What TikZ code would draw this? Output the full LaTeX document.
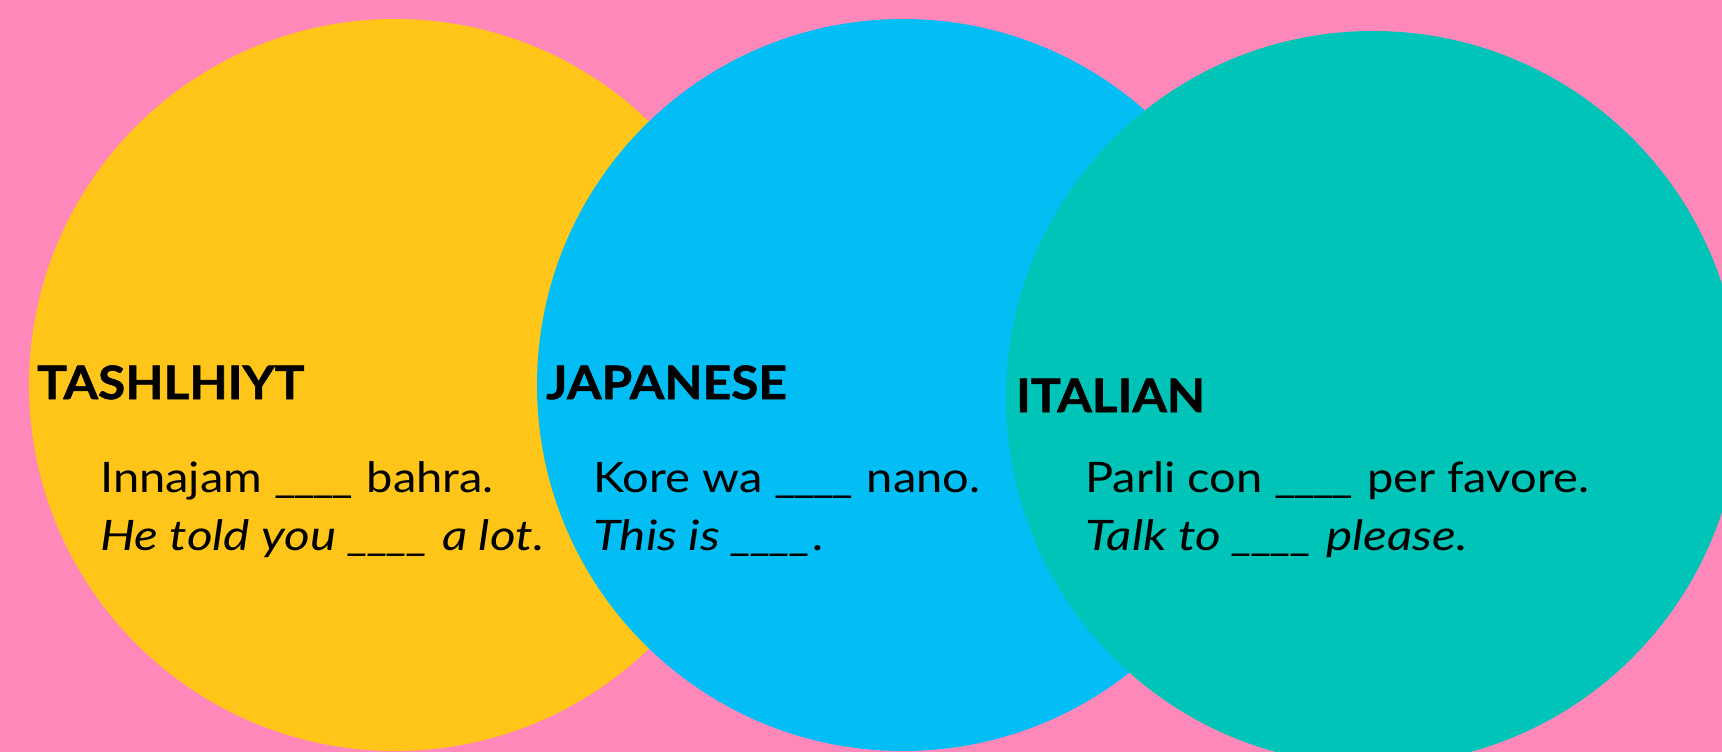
\documentclass[tikz,border=0pt]{standalone}
\usepackage{fontspec}
\setmainfont{Lato}
\newfontfamily\headfont[FakeStretch=1.08,FakeBold=1.2]{Lato Bold}
\newfontfamily\bodyfont[FakeStretch=1.12]{Lato}
\newfontfamily\itfont[FakeStretch=1.18]{Lato Italic}
\newcommand{\gapline}{\_\kern-2.5pt\_\kern-2.5pt\_\kern-2.5pt\_\kern1.5pt}
\definecolor{bgpink}{RGB}{255,136,187}
\definecolor{cyellow}{RGB}{255,198,25}
\definecolor{cblue}{RGB}{2,190,245}
\definecolor{cteal}{RGB}{0,196,183}
\begin{document}
\begin{tikzpicture}[x=1pt,y=-1pt,
  head/.style={anchor=base west,inner sep=0pt,font=\headfont\fontsize{46}{46}\selectfont},
  line/.style={anchor=base west,inner sep=0pt,font=\bodyfont\fontsize{42}{42}\selectfont},
  iline/.style={anchor=base west,inner sep=0pt,font=\itfont\fontsize{42}{42}\selectfont}]
\fill[bgpink] (0,0) rectangle (1722,752);
\useasboundingbox (0,0) rectangle (1722,752);
\begin{scope}
\clip (0,0) rectangle (1722,752);
\fill[cyellow] (395,385) circle[radius=366pt];
\fill[cblue] (903,385) circle[radius=366pt];
\fill[cteal] (1373,398) circle[radius=367pt];
\end{scope}
\node[head] (t1) at (37,399) {TASHLHIYT};
\node[line] (t1a) at (100,492) {Innajam \gapline{} bahra.};
\node[iline] (t1b) at (100,550) {He told you \gapline{} a lot.};
\node[head] (t2) at (546,399) {JAPANESE};
\node[line] (t2a) at (593,492) {Kore wa \gapline{} nano.};
\node[iline] (t2b) at (593,550) {This is \gapline{}.};
\node[head] (t3) at (1016,412) {ITALIAN};
\node[line] (t3a) at (1085,492) {Parli con \gapline{} per favore.};
\node[iline] (t3b) at (1085,550) {Talk to \gapline{} please.};
\end{tikzpicture}
\end{document}
